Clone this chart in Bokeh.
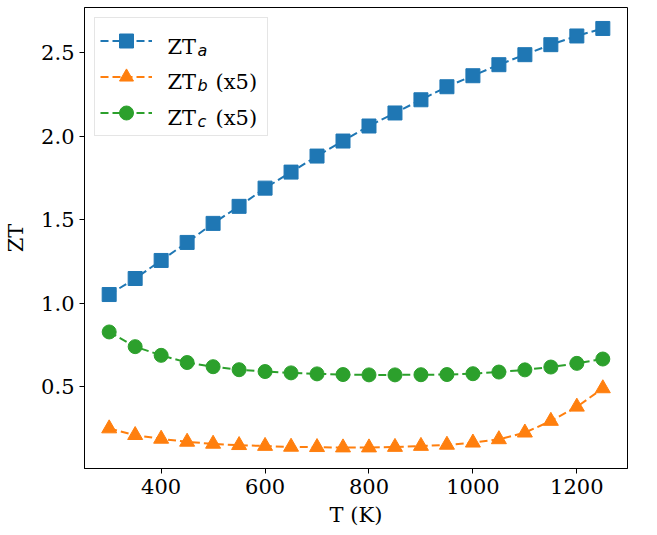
from bokeh.plotting import figure
from bokeh.models import Range1d, FixedTicker, PrintfTickFormatter, Legend, LegendItem, Label
from bokeh.core.properties import value
from bokeh.embed import file_html
from bokeh.resources import INLINE

# Temperature grid (K)
T = [300, 350, 400, 450, 500, 550, 600, 650, 700, 750,
     800, 850, 900, 950, 1000, 1050, 1100, 1150, 1200, 1250]

# Figure of merit along the three directions (b and c scaled by 5)
zt_a = [1.052, 1.148, 1.256, 1.364, 1.478, 1.580, 1.689, 1.785, 1.881, 1.971,
        2.061, 2.139, 2.218, 2.296, 2.362, 2.428, 2.488, 2.548, 2.600, 2.645]
zt_b = [0.250, 0.210, 0.188, 0.170, 0.158, 0.150, 0.145, 0.140, 0.138, 0.136,
        0.136, 0.139, 0.145, 0.152, 0.165, 0.185, 0.225, 0.295, 0.380, 0.490]
zt_c = [0.828, 0.740, 0.688, 0.645, 0.620, 0.602, 0.591, 0.583, 0.577, 0.573,
        0.571, 0.571, 0.572, 0.573, 0.578, 0.588, 0.601, 0.618, 0.640, 0.666]

x_ticks = [400, 600, 800, 1000, 1200]
y_ticks = [0.5, 1.0, 1.5, 2.0, 2.5]

SERIF = "DejaVu Serif"
FS = "21px"


def padded(lo, hi, frac=0.05):
    span = hi - lo
    return lo - frac * span, hi + frac * span


all_y = zt_a + zt_b + zt_c
p = figure(width=657, height=535, output_backend="svg", toolbar_location=None,
           x_range=Range1d(*padded(min(T), max(T))),
           y_range=Range1d(*padded(min(all_y), max(all_y))),
           min_border_left=84, min_border_right=30,
           min_border_top=7, min_border_bottom=67)

p.background_fill_color = "white"
p.border_fill_color = "white"
p.outline_line_color = "black"
p.outline_line_width = 1
p.outline_line_alpha = 1.0
p.grid.visible = False

for ax in (p.xaxis[0], p.yaxis[0]):
    ax.axis_line_color = "black"
    ax.axis_line_width = 1
    ax.major_tick_line_color = "black"
    ax.major_tick_line_width = 1
    ax.major_tick_in = 0
    ax.major_tick_out = 5
    ax.minor_tick_line_color = None
    ax.major_label_text_font = SERIF
    ax.major_label_text_font_size = FS
    ax.major_label_text_color = "black"
    ax.major_label_standoff = 5
    ax.axis_label_text_font = SERIF
    ax.axis_label_text_font_size = FS
    ax.axis_label_text_font_style = "normal"
    ax.axis_label_text_color = "black"

p.xaxis.ticker = FixedTicker(ticks=x_ticks)
p.yaxis.ticker = FixedTicker(ticks=y_ticks)
p.yaxis.formatter = PrintfTickFormatter(format="%.1f")
p.xaxis.axis_label = "T (K)"
p.yaxis.axis_label = "ZT"
p.xaxis.axis_label_standoff = 6
p.yaxis.axis_label_standoff = 10

series = [
    (zt_a, "#1f77b4", "square", 14),
    (zt_b, "#ff7f0e", "triangle", 15),
    (zt_c, "#2ca02c", "circle", 14),
]

items = []
for ys, color, marker, size in series:
    ln = p.line(T, ys, line_color=color, line_width=2, line_dash="8 4")
    sc = p.scatter(T, ys, marker=marker, size=size, fill_color=color,
                   line_color=color, line_width=1)
    items.append(LegendItem(label=value(" "), renderers=[ln, sc]))

# Legend frame and swatches; its texts are drawn as labels on top
legend = Legend(items=items, location="top_left", margin=10, padding=5,
                glyph_width=52, glyph_height=35, spacing=1,
                label_standoff=4, label_width=106, label_height=20,
                label_text_font_size="10px",
                border_line_color="#cccccc", border_line_width=1,
                background_fill_color="white", background_fill_alpha=0.0,
                level="annotation")
p.add_layout(legend)

# Legend texts: "ZT" with an italic subscript, plus the scale note
entries = [("a", ""), ("b", "(x5)"), ("c", "(x5)")]
baselines = [422, 387, 351]
for (sub, note), yb in zip(entries, baselines):
    p.add_layout(Label(x=83, y=yb, x_units="screen", y_units="screen", text="ZT",
                       text_font=SERIF, text_font_size=FS, text_color="black",
                       text_baseline="alphabetic", level="overlay"))
    p.add_layout(Label(x=113, y=yb - 4, x_units="screen", y_units="screen", text=sub,
                       text_font="DejaVu Sans", text_font_style="italic",
                       text_font_size="16px", text_color="black",
                       text_baseline="alphabetic", level="overlay"))
    if note:
        p.add_layout(Label(x=131, y=yb, x_units="screen", y_units="screen", text=note,
                           text_font=SERIF, text_font_size=FS, text_color="black",
                           text_baseline="alphabetic", level="overlay"))

open("out.html", "w").write(file_html(p, INLINE))
